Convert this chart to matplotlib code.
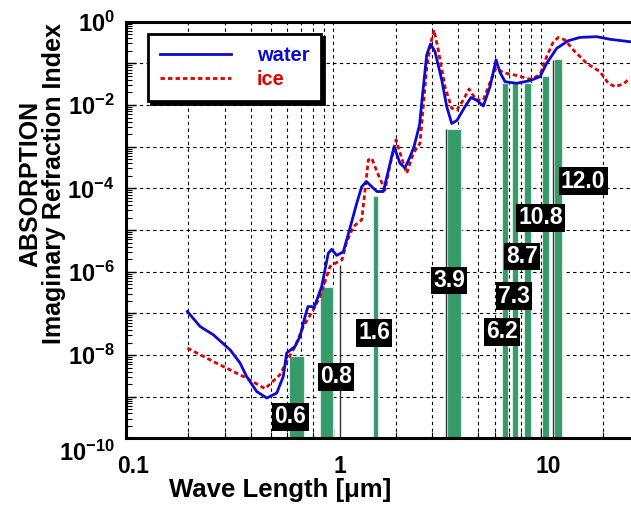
import matplotlib
matplotlib.use('Agg')
import matplotlib.pyplot as plt
import matplotlib.ticker as mticker
import matplotlib.transforms as mtransforms
import numpy as np

plt.rcParams['font.family'] = ['Liberation Sans', 'DejaVu Sans']
plt.rcParams['font.weight'] = 'bold'
plt.rcParams['mathtext.fontset'] = 'custom'
plt.rcParams['mathtext.rm'] = 'Liberation Sans:bold'
plt.rcParams['mathtext.bf'] = 'Liberation Sans:bold'

# ---------------- data ----------------
water_wl = [0.198, 0.228, 0.264, 0.318, 0.355, 0.382, 0.427, 0.478, 0.534, 0.574,
            0.596, 0.654, 0.691, 0.731, 0.755, 0.787, 0.807, 0.879, 0.946, 0.982,
            1.038, 1.117, 1.204, 1.297, 1.371, 1.445, 1.531, 1.624, 1.742, 1.841,
            1.961, 2.097, 2.216, 2.342, 2.448, 2.603, 2.706, 2.819, 2.941, 3.091,
            3.331, 3.520, 3.721, 3.947, 4.313, 4.609, 4.926, 5.284, 5.691, 6.084,
            6.36, 6.72, 7.65, 8.87, 9.91, 10.67, 11.93, 13.57, 15.45, 18.6,
            21.56, 26.9]
water_k = [1.11e-7, 4.85e-8, 3.07e-8, 1.34e-8, 6.5e-9, 3.07e-9, 1.34e-9, 9.3e-10, 1.23e-9, 3.07e-9,
           1.12e-8, 1.61e-8, 2.79e-8, 8.43e-8, 1.46e-7, 1.46e-7, 1.36e-7, 4.42e-7, 2.79e-6, 3.44e-6,
           2.47e-6, 3.0e-6, 1.13e-5, 4.42e-5, 1.1e-4, 1.46e-4, 1.1e-4, 8.4e-5, 8.4e-5, 2.63e-4,
           9.9e-4, 4.0e-4, 3.1e-4, 5.7e-4, 1.0e-3, 3.33e-3, 0.023, 0.159, 0.292, 0.191,
           0.04, 9.2e-3, 3.6e-3, 4.3e-3, 9.2e-3, 0.0152, 0.0129, 9.5e-3, 0.0276, 0.121,
           0.0605, 0.0364, 0.0333, 0.0385, 0.048, 0.1, 0.23, 0.35, 0.42, 0.437,
           0.378, 0.331]

ice_wl = [0.198, 0.264, 0.382, 0.469, 0.553, 0.596, 0.654, 0.717, 0.801, 0.863,
          0.964, 1.057, 1.101, 1.16, 1.249, 1.371, 1.422, 1.475, 1.531, 1.648,
          1.775, 1.876, 2.005, 2.175, 2.258, 2.43, 2.617, 2.819, 2.941, 3.057,
          3.206, 3.454, 3.721, 3.933, 4.232, 4.508, 4.872, 5.284, 5.691, 6.084,
          6.597, 7.65, 8.87, 9.91, 10.67, 11.49, 12.14, 13.08, 14.34, 16.64,
          19.29, 21.15, 22.79, 24.98, 26.9]
ice_k = [1.47e-8, 7.0e-9, 2.8e-9, 1.56e-9, 3.37e-9, 7.0e-9, 1.61e-8, 4.85e-8, 1.22e-7, 2.54e-7,
         1.33e-6, 1.76e-6, 1.93e-6, 5.2e-6, 1.21e-5, 1.76e-5, 9.2e-5, 4.8e-4, 5.3e-4, 2.1e-4,
         9.2e-5, 3.66e-4, 1.46e-3, 4.0e-4, 2.3e-4, 7.0e-4, 1.21e-3, 0.0776, 0.29, 0.63,
         0.21, 0.0272, 8.4e-3, 7.6e-3, 0.0133, 0.0243, 0.0133, 0.0133, 0.0348, 0.0776,
         0.0598, 0.0513, 0.0416, 0.0527, 0.145, 0.331, 0.418, 0.364, 0.21, 0.1,
         0.0632, 0.0333, 0.0276, 0.032, 0.044]

channel_labels = ['0.6', '0.8', '1.6', '3.9', '6.2', '7.3', '8.7', '10.8', '12.0']
band_lo = [0.614, 0.864, 1.55, 3.55, 6.48, 7.24, 8.30, 10.1, 11.6]
band_hi = [0.722, 1.00, 1.65, 4.12, 6.97, 7.79, 8.97, 10.95, 12.7]
band_top = [9.6e-9, 4.2e-7, 6.4e-5, 2.7e-3, 0.033, 0.033, 0.033, 0.05, 0.125]
band_bottom = 1e-10

edge_wl = [1.077, 3.49, 11.41]
edge_top = [1.45e-6, 2.7e-3, 0.12]

x_ticks = [0.1, 1, 10]
x_ticklabels = ['0.1', '1', '10']
y_exponents = list(range(-10, 1))

# ---------------- layout ----------------
label_pos_x = [0.622, 1.03, 1.57, 3.61, 6.50, 7.43, 8.12, 10.0, 16.0]
label_pos_y = [3.3e-10, 3.0e-9, 3.4e-8, 6.2e-7, 3.6e-8, 2.6e-7, 2.3e-6, 1.96e-5, 1.5e-4]

W, H = 631, 512
fig = plt.figure(figsize=(W / 100, H / 100), dpi=100)
ax_l, ax_r, ax_t, ax_b = 125.8, 631, 21.7, 438.4
ax = fig.add_axes([ax_l / W, 1 - ax_b / H, (ax_r - ax_l) / W, (ax_b - ax_t) / H])
ax.set_xscale('log')
ax.set_yscale('log')
ax.set_xlim(0.1, 27.2)
ax.set_ylim(1e-10, 1)

green = '#369a6b'
blue = '#0a0ad2'
red = '#e00000'

# bars
widths = [h - l for l, h in zip(band_lo, band_hi)]
heights = [t - band_bottom for t in band_top]
ax.bar(band_lo, heights, width=widths, bottom=band_bottom, align='edge',
       color=green, edgecolor='#d8ece2', linewidth=0.8, zorder=2)
ax.vlines(edge_wl, band_bottom, edge_top, color='#333333', linewidth=1.0, zorder=2.5)

# curves
ln_ice, = ax.plot(ice_wl, ice_k, color=red, linewidth=2.0, dashes=(1.6, 1.1), zorder=3, label='ice')
ln_water, = ax.plot(water_wl, water_k, color=blue, linewidth=2.0, zorder=4, label='water')

# channel labels
for lab, lx, ly in zip(channel_labels, label_pos_x, label_pos_y):
    ax.text(lx, ly, lab, color='white', fontsize=16.5, fontweight='bold', ha='center', va='center',
            bbox=dict(boxstyle='square,pad=0.1', fc='black', ec='none'), zorder=6)

# axes/ticks
ax.xaxis.set_major_locator(mticker.FixedLocator(x_ticks))
ax.xaxis.set_major_formatter(mticker.FixedFormatter(x_ticklabels))
ax.xaxis.set_minor_locator(mticker.LogLocator(base=10, subs=np.arange(2, 10), numticks=20))
ax.xaxis.set_minor_formatter(mticker.NullFormatter())

ax.yaxis.set_major_locator(mticker.FixedLocator([10.0 ** e for e in y_exponents]))
ax.yaxis.set_major_formatter(mticker.FuncFormatter(
    lambda v, p: (r'$\mathbf{10^{%d}}$' % round(np.log10(v))) if round(np.log10(v)) % 2 == 0 else ''))
ax.yaxis.set_minor_locator(mticker.LogLocator(base=10, subs=np.arange(2, 10), numticks=20))
ax.yaxis.set_minor_formatter(mticker.NullFormatter())

ax.tick_params(which='major', direction='in', length=7, width=1, labelsize=17, pad=8)
ax.tick_params(which='minor', direction='in', length=4, width=0.8)
ax.tick_params(axis='x', which='major', pad=12, labelsize=16.5)

ax.grid(True, axis='x', which='both', color='black', linestyle=(0, (3, 3)), linewidth=0.8, zorder=0.5)
ax.grid(True, axis='y', which='major', color='black', linestyle=(0, (3, 3)), linewidth=0.8, zorder=0.5)
ax.set_axisbelow(True)

for s in ['left', 'bottom', 'top']:
    ax.spines[s].set_linewidth(2.2)
ax.spines['right'].set_visible(False)

# shift x tick labels slightly right as in reference
for lab in ax.get_xticklabels():
    lab.set_transform(lab.get_transform() + mtransforms.ScaledTranslation(7 / 100, 0, fig.dpi_scale_trans))
ylabs = ax.get_yticklabels()
ylabs[0].set_transform(ylabs[0].get_transform() + mtransforms.ScaledTranslation(0, -12 / 100, fig.dpi_scale_trans))

# legend
leg = ax.legend(handles=[ln_water, ln_ice], labels=['water', 'ice'], loc='upper left',
                bbox_to_anchor=((148 - ax_l) / (ax_r - ax_l), (ax_b - 34) / (ax_b - ax_t)),
                borderaxespad=0, frameon=True, fancybox=False, edgecolor='black',
                framealpha=1, handlelength=3.5, handletextpad=1.3, borderpad=0.6,
                labelspacing=0.25, prop={'weight': 'bold', 'size': 14.5},
                shadow={'color': 'black', 'alpha': 1})
leg.get_frame().set_linewidth(2)
leg.get_texts()[0].set_color(blue)
leg.get_texts()[1].set_color(red)
leg.set_zorder(10)

fig.text(280 / W, 1 - 490 / H, 'Wave Length [μm]', ha='center', va='center', fontsize=18.5, fontweight='bold')
fig.text(42.5 / W, 1 - 184 / H, 'ABSORPTION\nImaginary Refraction Index', rotation=90, ha='center',
         va='center', multialignment='center', fontsize=18, fontweight='bold', linespacing=1.0)

fig.savefig('out.png', dpi=100)
